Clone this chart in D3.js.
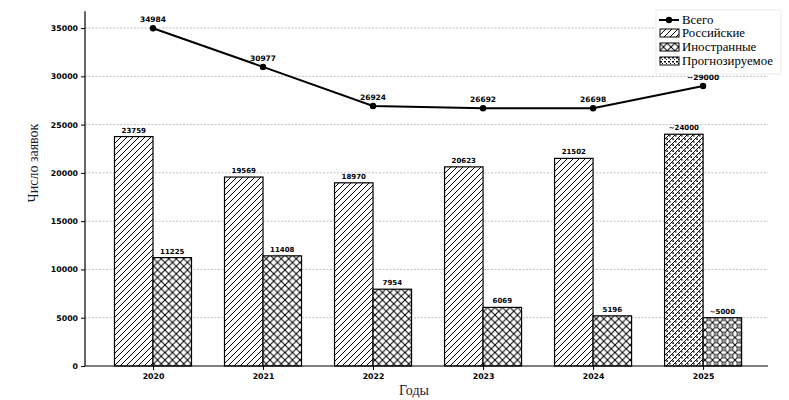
<!DOCTYPE html>
<html><head><meta charset="utf-8">
<script src="https://cdn.jsdelivr.net/npm/d3@7"></script>
<style>body{margin:0;background:#fff}svg{display:block}</style>
</head><body>
<script>
const years = ["2020","2021","2022","2023","2024","2025"];
const russian = [23759, 19569, 18970, 20623, 21502, 24000];
const foreign = [11225, 11408, 7954, 6069, 5196, 5000];
const total = [34984, 30977, 26924, 26692, 26698, 29000];
const forecast = [false, false, false, false, false, true];
const yTicks = [0, 5000, 10000, 15000, 20000, 25000, 30000, 35000];
const legendLabels = ["Всего", "Российские", "Иностранные", "Прогнозируемое"];

const W = 789, H = 400;
const svg = d3.select("body").append("svg").attr("width", W).attr("height", H);
const defs = svg.append("defs");

function pat(id, size, draw) {
  const p = defs.append("pattern").attr("id", id).attr("patternUnits", "userSpaceOnUse")
    .attr("width", size).attr("height", size);
  p.append("rect").attr("width", size).attr("height", size).attr("fill", "#fff");
  draw(p, size);
}
const diag = (p, s) => {
  p.append("path").attr("d", `M0,${s} L${s},0 M${-s/2},${s/2} L${s/2},${-s/2} M${s/2},${s*1.5} L${s*1.5},${s/2}`)
    .attr("stroke", "#000").attr("stroke-width", 1);
};
const cross = (p, s) => {
  p.append("path").attr("d", `M0,0 L${s},${s} M0,${s} L${s},0`)
    .attr("stroke", "#000").attr("stroke-width", 1);
};
pat("hRus", 6, diag);
pat("hFor", 7.5, cross);
pat("hRusF", 6, (p, s) => { diag(p, s); p.append("rect").attr("x", 0.3).attr("y", 0.3).attr("width", 1.6).attr("height", 1.6).attr("fill", "#000"); p.append("rect").attr("x", 3.2).attr("y", 3.2).attr("width", 1.4).attr("height", 1.4).attr("fill", "#000"); });
pat("hForF", 7.5, (p, s) => { cross(p, s); p.append("circle").attr("cx", s/2).attr("cy", s/2).attr("r", 1.9).attr("fill", "#fff").attr("stroke", "#000").attr("stroke-width", 0.8); p.append("circle").attr("cx", s/2).attr("cy", s/2).attr("r", 0.6).attr("fill", "#000"); });
pat("hFc", 4, (p, s) => { p.append("rect").attr("x", 0).attr("y", 0).attr("width", 2).attr("height", 1.5).attr("fill", "#000"); p.append("rect").attr("x", 2).attr("y", 2).attr("width", 1).attr("height", 1).attr("fill", "#000"); });

const left = 85, right = 768, bottom = 366;
const x = d3.scaleLinear().domain([-0.618, 5.59]).range([left, right]);
const y = d3.scaleLinear().domain([0, 36733]).range([bottom, 11.3]);
const bw = x(0.35) - x(0);

// grid
svg.append("g").selectAll("line").data(yTicks.filter(d => d > 0)).join("line")
  .attr("x1", left).attr("x2", right).attr("y1", d => y(d)).attr("y2", d => y(d))
  .attr("stroke", "#b0b0b0").attr("stroke-width", 0.8).attr("stroke-dasharray", "2,1.5");

// bars
const idx = d3.range(years.length);
svg.append("g").selectAll("rect").data(idx).join("rect")
  .attr("x", i => x(i) - bw).attr("y", i => y(russian[i])).attr("width", bw)
  .attr("height", i => y(0) - y(russian[i]))
  .attr("fill", i => forecast[i] ? "url(#hRusF)" : "url(#hRus)")
  .attr("stroke", "#000").attr("stroke-width", 1.2);
svg.append("g").selectAll("rect").data(idx).join("rect")
  .attr("x", i => x(i)).attr("y", i => y(foreign[i])).attr("width", bw)
  .attr("height", i => y(0) - y(foreign[i]))
  .attr("fill", i => forecast[i] ? "url(#hForF)" : "url(#hFor)")
  .attr("stroke", "#000").attr("stroke-width", 1.2);

const lblFont = "DejaVu Sans, sans-serif";
svg.append("g").selectAll("text").data(idx).join("text")
  .attr("x", i => x(i) - bw / 2).attr("y", i => y(russian[i]) - 4)
  .attr("text-anchor", "middle").attr("font-family", lblFont).attr("font-size", 7).attr("font-weight", "bold")
  .text(i => (forecast[i] ? "~" : "") + russian[i]);
svg.append("g").selectAll("text").data(idx).join("text")
  .attr("x", i => x(i) + bw / 2).attr("y", i => y(foreign[i]) - 4)
  .attr("text-anchor", "middle").attr("font-family", lblFont).attr("font-size", 7).attr("font-weight", "bold")
  .text(i => (forecast[i] ? "~" : "") + foreign[i]);

// axes
const yAxis = d3.axisLeft(y).tickValues(yTicks).tickFormat(d3.format("d")).tickSize(4).tickPadding(3);
const gy = svg.append("g").attr("transform", `translate(${left},0)`).call(yAxis);
const xAxis = d3.axisBottom(x).tickValues(idx).tickFormat(i => years[i]).tickSize(4).tickPadding(3);
const gx = svg.append("g").attr("transform", `translate(0,${bottom})`).call(xAxis);
[gx, gy].forEach(g => {
  g.selectAll("text").attr("font-family", lblFont).attr("font-size", 7.8).attr("font-weight", "bold").attr("fill", "#000");
  g.selectAll("line").attr("stroke", "#000");
  g.select(".domain").remove();
});
svg.append("line").attr("x1", left).attr("x2", left).attr("y1", y.range()[1]).attr("y2", bottom).attr("stroke", "#000").attr("stroke-width", 1.2);
svg.append("line").attr("x1", left).attr("x2", right).attr("y1", bottom).attr("y2", bottom).attr("stroke", "#000").attr("stroke-width", 1.2);

// total line
const line = d3.line().x((d, i) => x(i)).y(d => y(d));
svg.append("path").datum(total).attr("d", line).attr("fill", "none").attr("stroke", "#000").attr("stroke-width", 2);
svg.append("g").selectAll("circle").data(total).join("circle")
  .attr("cx", (d, i) => x(i)).attr("cy", d => y(d)).attr("r", 3.2).attr("fill", "#000");
svg.append("g").selectAll("text").data(total).join("text")
  .attr("x", (d, i) => x(i)).attr("y", d => y(d) - 6)
  .attr("text-anchor", "middle").attr("font-family", lblFont).attr("font-size", 7.5).attr("font-weight", "bold")
  .text((d, i) => (forecast[i] ? "~" : "") + d);

// axis titles
const serif = "Liberation Serif, Times New Roman, serif";
svg.append("text").attr("x", 414).attr("y", 395).attr("text-anchor", "middle")
  .attr("font-family", serif).attr("font-size", 14).attr("fill", "#1a1a33").text("Годы");
svg.append("text").attr("transform", "translate(38,163) rotate(-90)").attr("text-anchor", "middle")
  .attr("font-family", serif).attr("font-size", 14).attr("fill", "#1a1a33").text("Число заявок");

// legend
const lg = svg.append("g").attr("transform", "translate(656,10)");
lg.append("rect").attr("x", 0).attr("y", 0).attr("width", 125).attr("height", 64)
  .attr("fill", "#fff").attr("stroke", "#e6e6e6").attr("stroke-width", 0.8);
const rowY = [10, 23, 37, 51];
const fills = [null, "url(#hRus)", "url(#hFor)", "url(#hFc)"];
legendLabels.forEach((t, k) => {
  const g = lg.append("g").attr("transform", `translate(0,${rowY[k]})`);
  if (k === 0) {
    g.append("line").attr("x1", 3).attr("x2", 23).attr("y1", 0).attr("y2", 0).attr("stroke", "#000").attr("stroke-width", 2);
    g.append("circle").attr("cx", 13).attr("cy", 0).attr("r", 3.2).attr("fill", "#000");
  } else {
    g.append("rect").attr("x", 4).attr("y", -4).attr("width", 19).attr("height", 8)
      .attr("fill", fills[k]).attr("stroke", "#000").attr("stroke-width", 1);
  }
  g.append("text").attr("x", 26).attr("y", 4).attr("font-family", serif).attr("font-size", 12.8)
    .attr("fill", "#000").text(t);
});
</script>
</body></html>
